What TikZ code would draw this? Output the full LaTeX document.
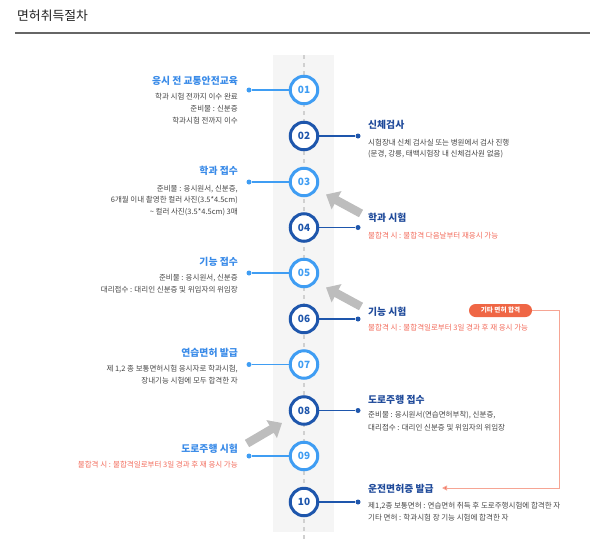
\documentclass[tikz,border=0pt]{standalone}
\usepackage{fontspec}
\setmainfont{Noto Sans CJK KR}
\usetikzlibrary{arrows.meta}
\definecolor{lightring}{HTML}{3F9DF3}
\definecolor{darkring}{HTML}{1E56AC}
\definecolor{lefttitle}{HTML}{3A8BE8}
\definecolor{righttitle}{HTML}{1F4A9A}
\definecolor{bodygray}{HTML}{454545}
\definecolor{redtext}{HTML}{F26B5B}
\definecolor{badgecol}{HTML}{EF6645}
\definecolor{redline}{HTML}{F6A594}
\definecolor{arrowgray}{HTML}{BDBDBD}
\definecolor{bandgray}{HTML}{F5F5F5}
\definecolor{dashgray}{HTML}{D0D0D0}
\definecolor{headline}{HTML}{666666}
\begin{document}
\begin{tikzpicture}[x=1pt,y=-1pt,
  lightstep/.style={circle,draw=lightring,line width=3pt,fill=white,minimum size=27.5pt,inner sep=0pt,text=lightring,font=\fontsize{10}{10}\selectfont\bfseries},
  darkstep/.style={circle,draw=darkring,line width=3pt,fill=white,minimum size=27.5pt,inner sep=0pt,text=darkring,font=\fontsize{10}{10}\selectfont\bfseries},
  lightdot/.style={circle,fill=lightring,inner sep=0pt,minimum size=5pt},
  darkdot/.style={circle,fill=darkring,inner sep=0pt,minimum size=5pt},
  ltitle/.style={anchor=east,inner sep=0pt,text=lefttitle,font=\fontsize{9.8}{10}\selectfont\bfseries},
  rtitle/.style={anchor=west,inner sep=0pt,text=righttitle,font=\fontsize{9.8}{10}\selectfont\bfseries},
  lbody/.style={anchor=east,inner sep=0pt,text=bodygray,font=\fontsize{7.5}{8}\selectfont},
  rbody/.style={anchor=west,inner sep=0pt,text=bodygray,font=\fontsize{7.5}{8}\selectfont},
  lred/.style={lbody,text=redtext},
  rred/.style={rbody,text=redtext},
  lconn/.style={draw=lightring,line width=1.3pt},
  rconn/.style={draw=darkring,line width=1.3pt},
  grayarrow/.style={draw=arrowgray,line width=8.5pt,-{Triangle[length=12pt,width=20pt]}},
]
\useasboundingbox (0,0) rectangle (602,541);
% header
\node[anchor=west,inner sep=0pt,text=black!88,font=\fontsize{12.8}{13}\selectfont] (head) at (17,16) {면허취득절차};
\coordinate (hl1) at (15,33);
\coordinate (hl2) at (590,33);
\draw[headline,line width=1.6pt] (hl1) -- (hl2);
% band and dashed spine
\fill[bandgray] (273,55) rectangle (334,532);
\coordinate (sp1) at (304,55);
\coordinate (sp2) at (304,541);
\draw[dashgray,line width=1.3pt,dash pattern=on 4pt off 4pt] (sp1) -- (sp2);
% circles
\node[lightstep] (c1) at (304,90) {01};
\node[darkstep] (c2) at (304,136) {02};
\node[lightstep] (c3) at (304,182) {03};
\node[darkstep] (c4) at (304,227.5) {04};
\node[lightstep] (c5) at (304,273) {05};
\node[darkstep] (c6) at (304,319) {06};
\node[lightstep] (c7) at (304,364.5) {07};
\node[darkstep] (c8) at (304,410.5) {08};
\node[lightstep] (c9) at (304,456) {09};
\node[darkstep] (c10) at (304,502) {10};
% dots
\node[lightdot] (d1) at (249,90) {};
\node[lightdot] (d3) at (249,182) {};
\node[lightdot] (d5) at (249,273) {};
\node[lightdot] (d7) at (249,364.5) {};
\node[lightdot] (d9) at (249,456) {};
\node[darkdot] (d2) at (358,136) {};
\node[darkdot] (d4) at (358,227.5) {};
\node[darkdot] (d6) at (358,319) {};
\node[darkdot] (d8) at (358,410.5) {};
\node[darkdot] (d10) at (358,502) {};
\draw[lconn] (c1) -- (d1);
\draw[lconn] (c3) -- (d3);
\draw[lconn] (c5) -- (d5);
\draw[lconn] (c7) -- (d7);
\draw[lconn] (c9) -- (d9);
\draw[rconn] (c2) -- (d2);
\draw[rconn] (c4) -- (d4);
\draw[rconn] (c6) -- (d6);
\draw[rconn] (c8) -- (d8);
\draw[rconn] (c10) -- (d10);
% left texts
\node[ltitle] (t1) at (238,81) {응시 전 교통안전교육};
\node[lbody] (b1a) at (238,97) {학과 시험 전까지 이수 완료};
\node[lbody] (b1b) at (238,109) {준비물 : 신분증};
\node[lbody] (b1c) at (238,120.5) {학과시험 전까지 이수};
\node[ltitle] (t3) at (238,171) {학과 접수};
\node[lbody] (b3a) at (238,189) {준비물 : 응시원서, 신분증,};
\node[lbody] (b3b) at (238,200.5) {6개월 이내 촬영한 컬러 사진(3.5*4.5cm)};
\node[lbody] (b3c) at (238,212) {\textasciitilde{} 컬러 사진(3.5*4.5cm) 3매};
\node[ltitle] (t5) at (238,262) {기능 접수};
\node[lbody] (b5a) at (238,278) {준비물 : 응시원서, 신분증};
\node[lbody] (b5b) at (238,289.5) {대리접수 : 대리인 신분증 및 위임자의 위임장};
\node[ltitle] (t7) at (238,353) {연습면허 발급};
\node[lbody] (b7a) at (238,369.5) {제 1,2 종 보통면허시험 응시자로 학과시험,};
\node[lbody] (b7b) at (238,381) {장내기능 시험에 모두 합격한 자};
\node[ltitle] (t9) at (238,449) {도로주행 시험};
\node[lred] (b9a) at (238,465) {불합격 시 : 불합격일로부터 3일 경과 후 재 응시 가능};
% right texts
\node[rtitle] (t2) at (368,125) {신체검사};
\node[rbody] (b2a) at (368,143) {시험장내 신체 검사실 또는 병원에서 검사 진행};
\node[rbody] (b2b) at (368,154.5) {(문경, 강릉, 태백시험장 내 신체검사원 없음)};
\node[rtitle] (t4) at (368,218) {학과 시험};
\node[rred] (b4a) at (368,236) {불합격 시 : 불합격 다음날부터 재응시 가능};
\node[rtitle] (t6) at (368,312) {기능 시험};
\node[rred] (b6a) at (368,327.5) {불합격 시 : 불합격일로부터 3일 경과 후 재 응시 가능};
\node[rtitle] (t8) at (368,400) {도로주행 접수};
\node[rbody] (b8a) at (368,415.5) {준비물 : 응시원서(연습면허부착), 신분증,};
\node[rbody] (b8b) at (368,427.5) {대리접수 : 대리인 신분증 및 위임자의 위임장};
\node[rtitle] (t10) at (368,489) {운전면허증 발급};
\node[rbody] (b10a) at (368,506) {제1,2종 보통면허 : 연습면허 취득 후 도로주행시험에 합격한 자};
\node[rbody] (b10b) at (368,517.5) {기타 면허 : 학과시험 장 기능 시험에 합격한 자};
% gray arrows
\coordinate (ga1s) at (361,213.5);
\coordinate (ga1e) at (326,194.5);
\coordinate (ga2s) at (361,306.5);
\coordinate (ga2e) at (326,287.5);
\coordinate (ga3s) at (247,443.5);
\coordinate (ga3e) at (282,423);
\draw[grayarrow] (ga1s) -- (ga1e);
\draw[grayarrow] (ga2s) -- (ga2e);
\draw[grayarrow] (ga3s) -- (ga3e);
% badge and red connector
\node[fill=badgecol,rounded corners=6.5pt,minimum width=63pt,minimum height=13pt,inner sep=0pt,text=white,font=\fontsize{6.6}{7}\selectfont\bfseries] (badge) at (500.5,310.5) {기타 면허 합격};
\coordinate (rl1) at (559,310.5);
\coordinate (rl2) at (559,488);
\coordinate (rl3) at (442,488);
\draw[redline,line width=0.9pt,-{Triangle[length=5pt,width=5pt,fill=redtext]}] (badge.east) -- (rl1) -- (rl2) -- (rl3);
\end{tikzpicture}
\end{document}
